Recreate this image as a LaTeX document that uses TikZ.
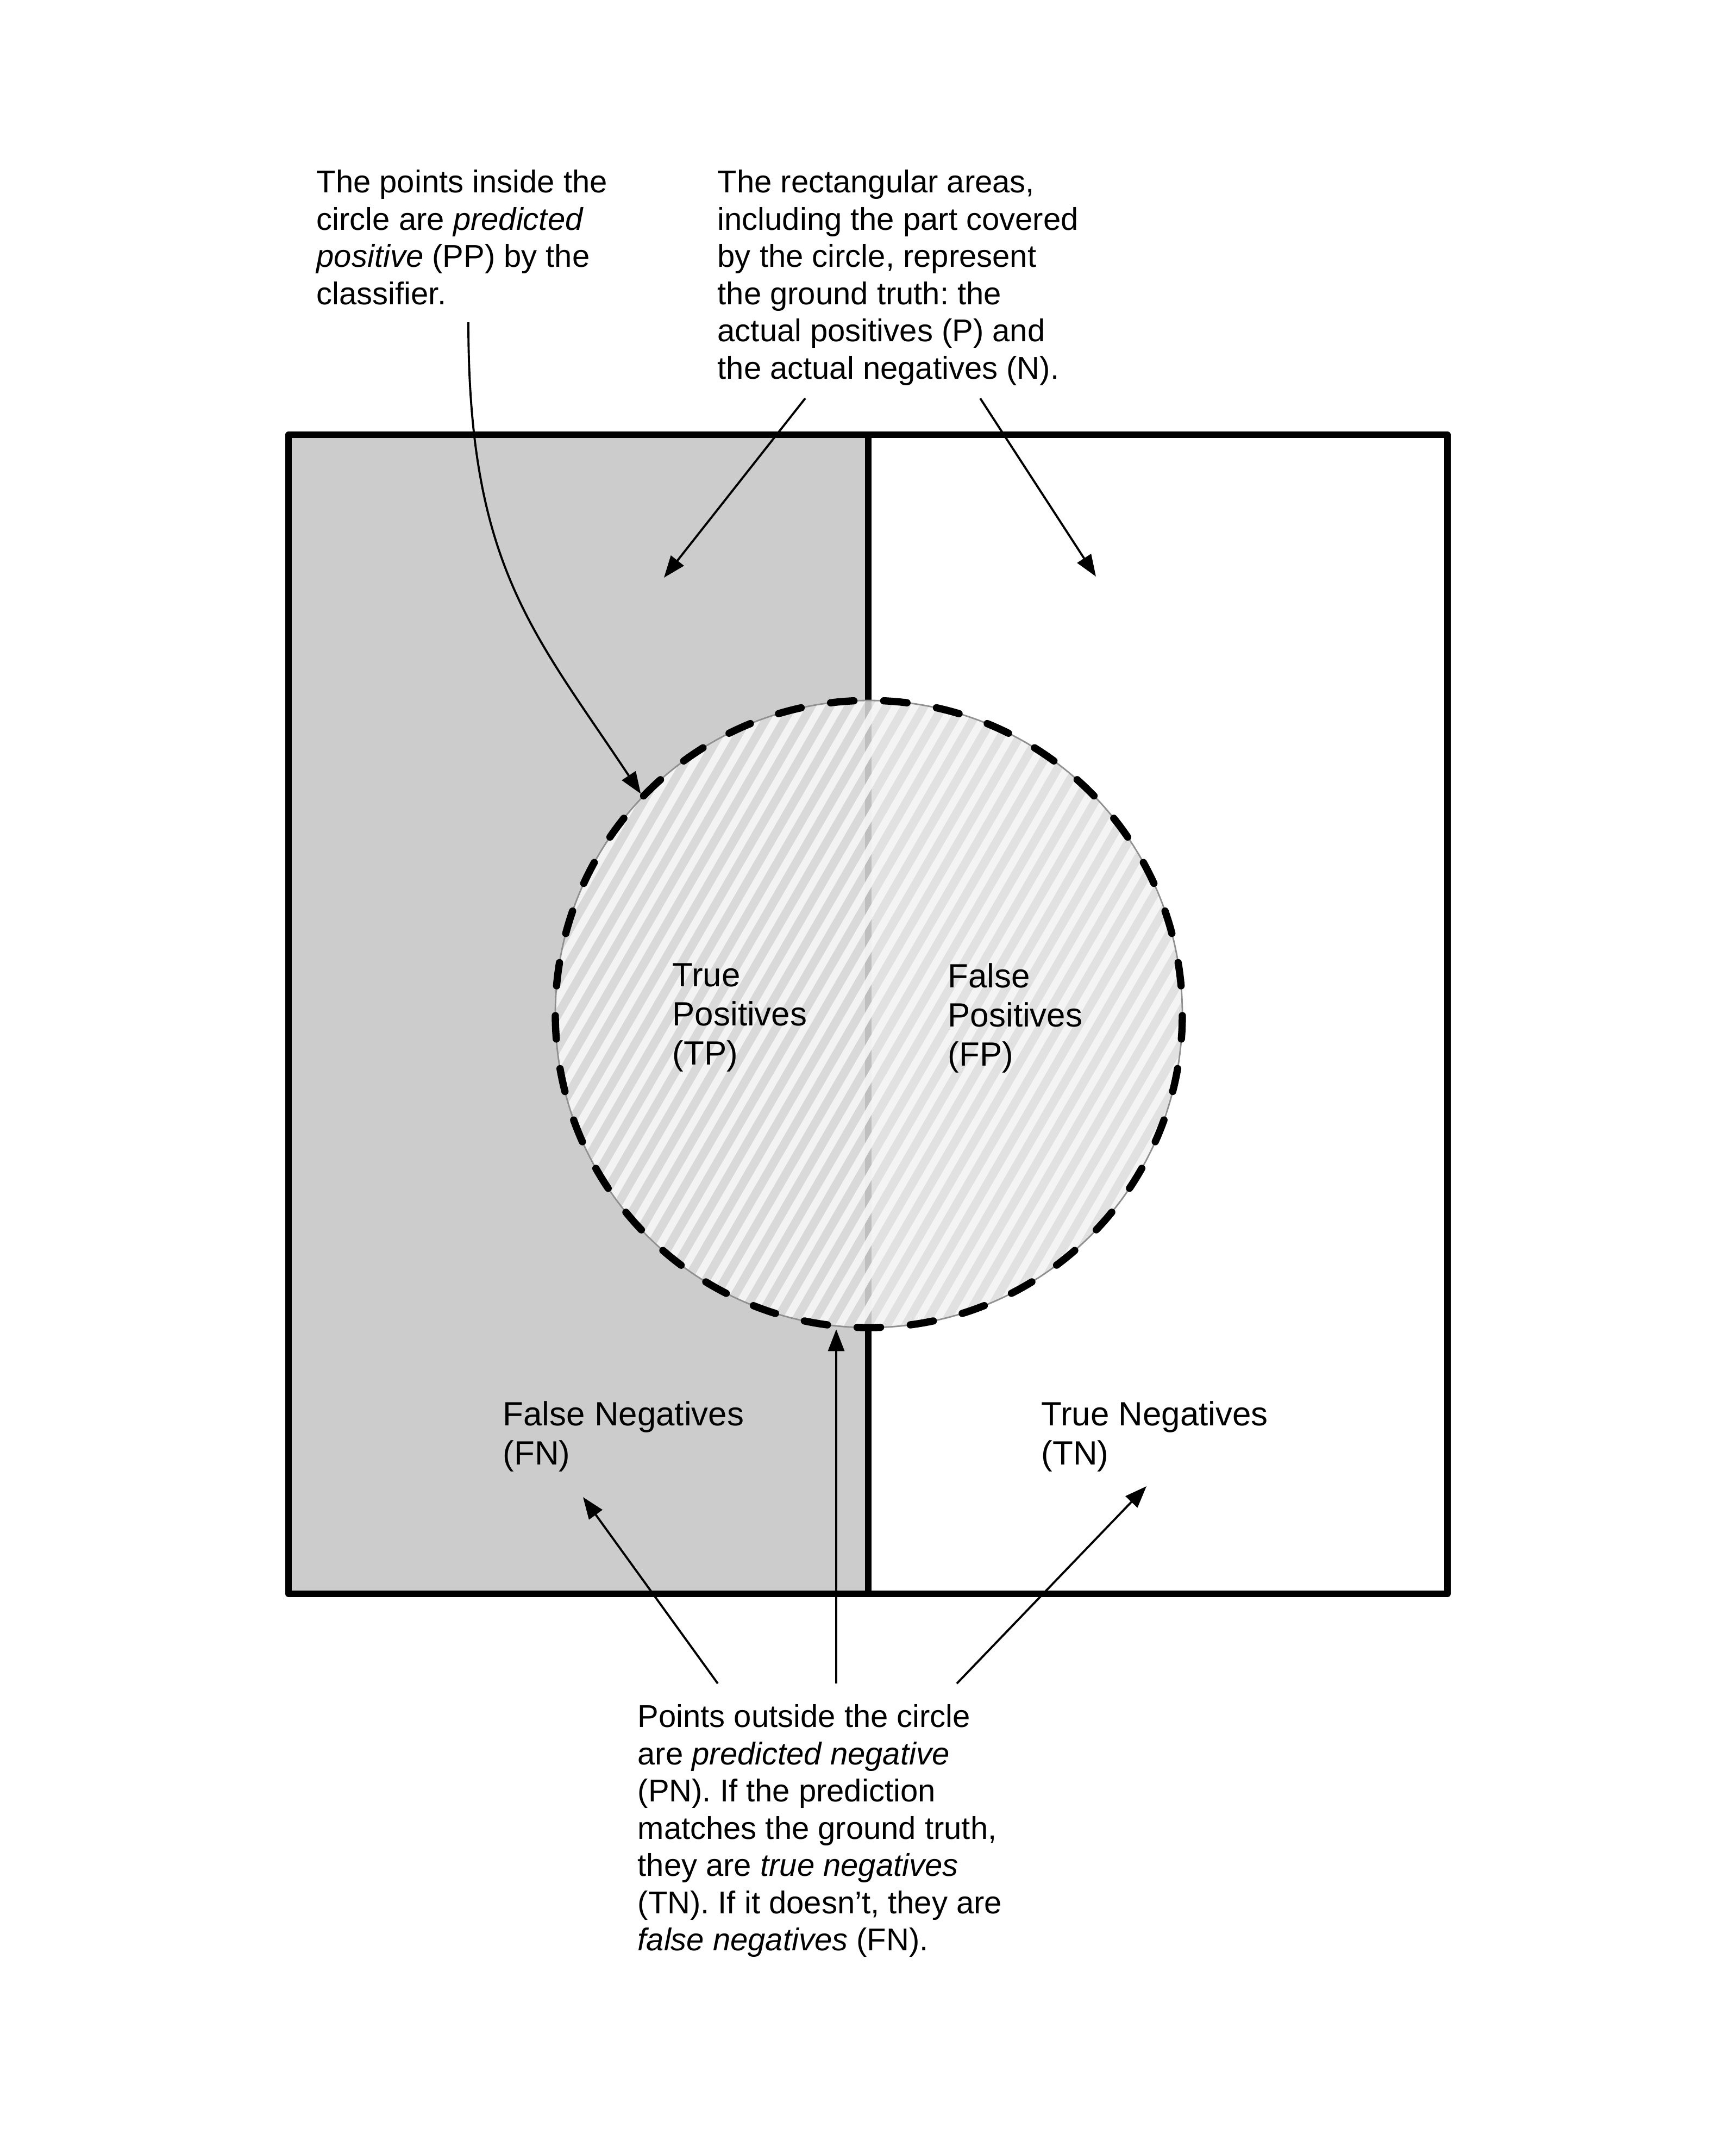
\documentclass[tikz,border=0pt]{standalone}
\usepackage{fontspec}
\setmainfont{Liberation Sans}
\frenchspacing
\usepackage{xcolor}
\usepackage{tikz}
\usetikzlibrary{arrows.meta}
\definecolor{ink}{HTML}{000000}
\definecolor{posfill}{HTML}{CCCCCC}
\definecolor{discfill}{HTML}{DCDCDC}
\definecolor{hatchline}{HTML}{F8F8F8}
\definecolor{rimedge}{HTML}{909090}
\tikzset{
  frame/.style={draw=ink, line width=3.4pt, line cap=round, line join=round},
  rimline/.style={draw=ink, line width=3.8pt, line cap=round, dash pattern=on 0.43cm off 0.55cm, dash phase=0.705cm},
  stripe/.style={draw=hatchline, line width=0.14cm, draw opacity=0.87},
  ptr/.style={draw=ink, line width=1.1pt, -{Triangle[length=11.4pt,width=8.5pt]}},
  note/.style={align=left, anchor=north west, inner sep=0pt, font=\fontsize{16.5}{19.5}\selectfont},
  lab/.style={align=left, anchor=north west, inner sep=0pt, font=\fontsize{17.6}{20.5}\selectfont},
}

\begin{document}
\begin{tikzpicture}
  \useasboundingbox (0,0) rectangle (31.95,-39.62);
  \def\r{5.77}
  \coordinate (C) at (15.99,-18.66);
  % ground truth: P on the left, N on the right
  \fill[posfill] (5.31,-8.00) rectangle (15.98,-29.33);
  \draw[frame] (5.31,-8.00) rectangle (26.64,-29.33);
  \draw[frame] (15.98,-8.00) -- (15.98,-29.33);
  % predicted positive
  \node[circle, minimum size=11.54cm, inner sep=0pt, outer sep=0.065cm,
        fill=discfill, fill opacity=0.87, draw=rimedge, line width=0.8pt,
        path picture={
          \foreach \k in {-20,...,20}
            \draw[stripe] ([shift={({-0.2598*(\k)},{0.15*(\k)})}]C) ++(60:-6) -- ++(60:12);
        }] (pp) at (C) {};
  \draw[rimline] (C) ++(90:\r) arc[start angle=90, end angle=450, radius=\r];
  % labels
  \node[lab] (tp) at (12.37,-17.72) {True\\ Positives\\ (TP)};
  \node[lab] (fp) at (17.44,-17.72) {False\\ Positives\\ (FP)};
  \node[lab] (fn) at (9.25,-25.78) {False Negatives\\ (FN)};
  \node[lab] (tn) at (19.16,-25.78) {True Negatives\\ (TN)};
  % notes
  \node[note] (ppnote) at (5.82,-3.12) {The points inside the\\ circle are \textit{predicted}\\ \textit{positive} (PP) by the\\ classifier.};
  \node[note] (gtnote) at (13.20,-3.12) {The rectangular areas,\\ including the part covered\\ by the circle, represent\\ the ground truth: the\\ actual positives (P) and\\ the actual negatives (N).};
  \node[note] (pnnote) at (11.73,-31.36) {Points outside the circle\\ are \textit{predicted negative}\\ (PN). If the prediction\\ matches the ground truth,\\ they are \textit{true negatives}\\ (TN). If it doesn’t, they are\\ \textit{false negatives} (FN).};
  % pointers
  \coordinate (ppfrom) at (8.62,-5.93);
  \coordinate (pfrom) at (14.82,-7.33);
  \coordinate (ptip) at (12.22,-10.63);
  \coordinate (nfrom) at (18.04,-7.33);
  \coordinate (ntip) at (20.17,-10.61);
  \coordinate (fnfrom) at (13.21,-30.98);
  \coordinate (fntip) at (10.73,-27.55);
  \coordinate (pnfrom) at (15.39,-30.98);
  \coordinate (tnfrom) at (17.61,-30.98);
  \coordinate (tntip) at (21.10,-27.35);
  \draw[ptr] (ppfrom) .. controls (8.62,-10.43) and (9.84,-11.66) .. (pp.136);
  \draw[ptr] (pfrom) -- (ptip);
  \draw[ptr] (nfrom) -- (ntip);
  \draw[ptr] (fnfrom) -- (fntip);
  \draw[ptr] (pnfrom) -- (pnfrom |- pp.264);
  \draw[ptr] (tnfrom) -- (tntip);
\end{tikzpicture}
\end{document}
